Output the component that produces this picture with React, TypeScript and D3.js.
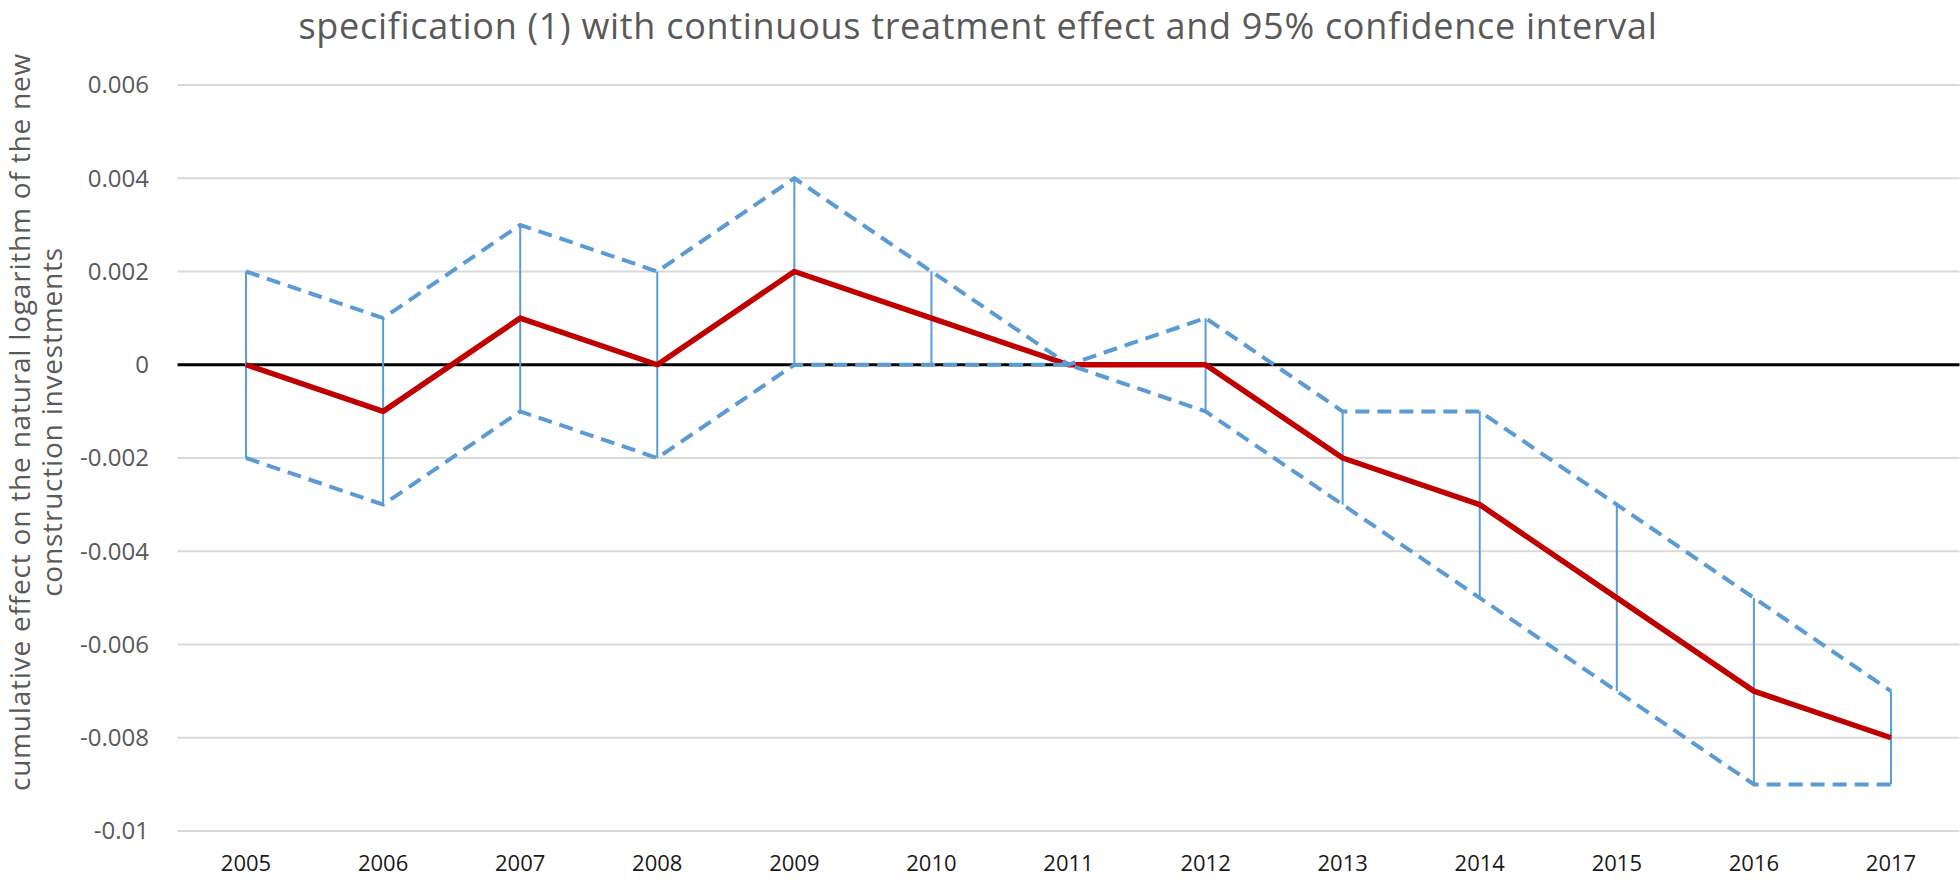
import React from 'react';
import * as d3 from 'd3';

const width = 1960;
const height = 880;

// chart data
const years = ['2005', '2006', '2007', '2008', '2009', '2010', '2011', '2012', '2013', '2014', '2015', '2016', '2017'];
const effect = [0, -0.001, 0.001, 0, 0.002, 0.001, 0, 0, -0.002, -0.003, -0.005, -0.007, -0.008];
const upper = [0.002, 0.001, 0.003, 0.002, 0.004, 0.002, 0, 0.001, -0.001, -0.001, -0.003, -0.005, -0.007];
const lower = [-0.002, -0.003, -0.001, -0.002, 0, 0, 0, -0.001, -0.003, -0.005, -0.007, -0.009, -0.009];
const yTicks = [0.006, 0.004, 0.002, 0, -0.002, -0.004, -0.006, -0.008, -0.01];

const title = 'specification (1) with continuous treatment effect and 95% confidence interval';
const yTitle = ['cumulative effect on the natural logarithm of the new', 'construction investments'];

const font = '"Open Sans", "DejaVu Sans", sans-serif';

export default function App() {
  const xScale = d3.scalePoint<string>().domain(years).range([177.5, 1959.5]).padding(0.5);
  const yScale = d3.scaleLinear().domain([-0.01, 0.006]).range([831, 85]);

  const [x0, x1] = xScale.range();

  const lineGen = (vals: number[]) =>
    d3.line<number>()
      .x((_, i) => xScale(years[i]) as number)
      .y(d => yScale(d))(vals) as string;

  const fmt = (v: number) => (v === 0 ? '0' : String(+v.toFixed(3)));

  return (
    <svg width={width} height={height} style={{ position: 'absolute', left: 0, top: 0, background: '#fff' }}>
      <text x={978} y={39} textAnchor="middle" fontFamily={font} fontSize={36} letterSpacing={0.7} fill="#595959">
        {title}
      </text>

      {/* gridlines */}
      {yTicks.filter(t => t !== 0).map(t => (
        <line key={t} x1={x0} x2={x1} y1={yScale(t)} y2={yScale(t)} stroke="#d9d9d9" strokeWidth={2} />
      ))}

      {/* y tick labels */}
      {yTicks.map(t => (
        <text key={'l' + t} x={149} y={yScale(t)} dy="0.35em" textAnchor="end" fontFamily={font} fontSize={24} fill="#595959">
          {fmt(t)}
        </text>
      ))}

      {/* x labels */}
      {years.map(yr => (
        <text key={yr} x={xScale(yr)} y={871} textAnchor="middle" fontFamily={font} fontSize={22} fill="#1a1a1a">
          {yr}
        </text>
      ))}

      {/* axis title */}
      <g fontFamily={font} fontSize={28} letterSpacing={0.8} fill="#595959" textAnchor="middle">
        <text transform={`translate(30,422) rotate(-90)`}>{yTitle[0]}</text>
        <text transform={`translate(62,422) rotate(-90)`}>{yTitle[1]}</text>
      </g>

      {/* zero line */}
      <line x1={x0} x2={x1} y1={yScale(0)} y2={yScale(0)} stroke="#000" strokeWidth={3} />

      {/* error bars */}
      {years.map((yr, i) => (
        <line key={'e' + yr} x1={xScale(yr)} x2={xScale(yr)} y1={yScale(lower[i])} y2={yScale(upper[i])}
          stroke="#5b9bd5" strokeWidth={2} />
      ))}

      {/* point estimate */}
      <path d={lineGen(effect)} fill="none" stroke="#c00000" strokeWidth={5.5} strokeLinejoin="round" />

      {/* confidence bounds */}
      <path d={lineGen(upper)} fill="none" stroke="#5b9bd5" strokeWidth={4} strokeDasharray="14,8" />
      <path d={lineGen(lower)} fill="none" stroke="#5b9bd5" strokeWidth={4} strokeDasharray="14,8" />
    </svg>
  );
}
